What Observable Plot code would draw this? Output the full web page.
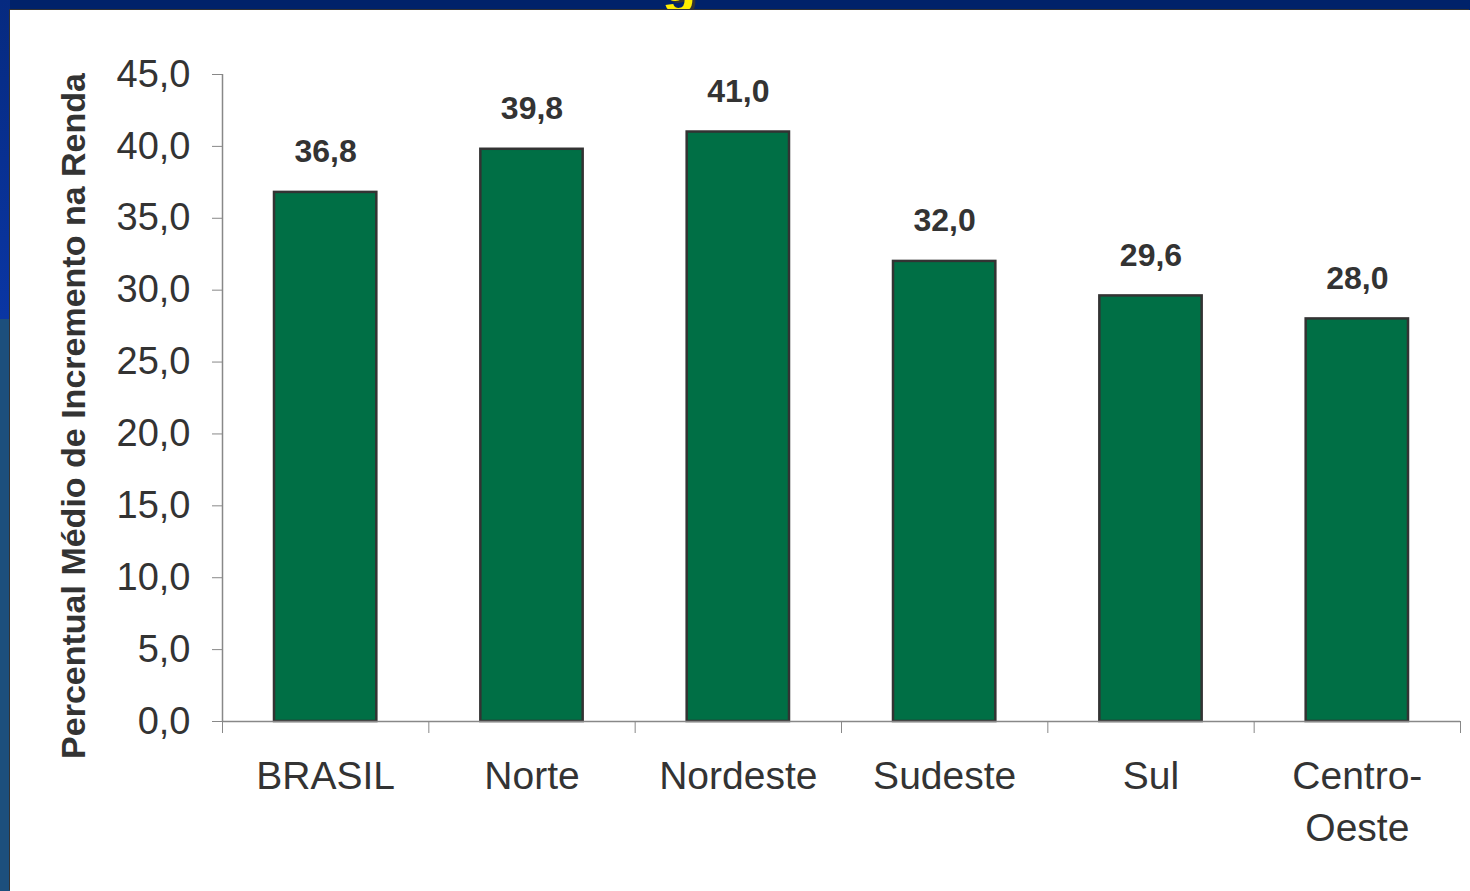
<!DOCTYPE html>
<html>
<head>
<meta charset="utf-8">
<script src="https://cdn.jsdelivr.net/npm/d3@7"></script>
<script src="https://cdn.jsdelivr.net/npm/@observablehq/plot@0.6"></script>
<style>
  html, body { margin: 0; padding: 0; }
  body { width: 1470px; height: 891px; position: relative; overflow: hidden; background: #00226a; font-family: "Liberation Sans", Arial, sans-serif; }
  #leftTop { position: absolute; left: 0; top: 0; width: 10px; height: 319px; background: linear-gradient(#062a80, #0a36a4); }
  #leftBot { position: absolute; left: 0; top: 319px; width: 10px; height: 572px; background: #1c4f7c; }
  #panel { position: absolute; left: 10px; top: 10px; width: 1460px; height: 881px; background: #fff; box-shadow: -1px -1px 0 #333; }
  #titleClip { position: absolute; left: 0; top: 0; width: 1470px; height: 9px; overflow: hidden; }
  #titleClip span { position: absolute; left: 662px; top: -46px; font-size: 56px; font-weight: bold; color: #ffee00; text-shadow: 3px 2px 0 #333; line-height: 1; }
</style>
</head>
<body>
<div id="titleClip"><span>g</span></div>
<div id="leftTop"></div>
<div id="leftBot"></div>
<div id="panel"></div>
<script>
const regions = ["BRASIL", "Norte", "Nordeste", "Sudeste", "Sul", "Centro-\nOeste"];
const values = [36.8, 39.8, 41.0, 32.0, 29.6, 28.0];
const yTicks = [0, 5, 10, 15, 20, 25, 30, 35, 40, 45];
const yLabel = "Percentual Médio de Incremento na Renda";

const data = regions.map((r, i) => ({region: r, value: values[i], i}));
const boundaries = d3.range(regions.length + 1);
const fmt = v => v.toFixed(1).replace(".", ",");

const chart = Plot.plot({
  width: 1460,
  height: 881,
  marginLeft: 212,
  marginRight: 10,
  marginTop: 64,
  marginBottom: 170,
  style: {fontFamily: "'Liberation Sans', Arial, sans-serif", color: "#333", background: "transparent"},
  x: {type: "linear", domain: [0, regions.length], axis: null},
  y: {domain: [0, 45], axis: null},
  marks: [
    Plot.rectY(data, {x1: d => d.i, x2: d => d.i + 1, y: "value", insetLeft: 52, insetRight: 52, fill: "#006f45", stroke: "#333", strokeWidth: 2.5}),
    Plot.ruleY([0], {stroke: "#888", strokeWidth: 1.5}),
    Plot.ruleX([0], {y1: 0, y2: 45, stroke: "#888", strokeWidth: 1.5}),
    Plot.axisY({ticks: yTicks, tickFormat: fmt, tickSize: 10, tickPadding: 22, fontSize: 38, stroke: "#888", fill: "#333", label: null}),
    Plot.axisX({ticks: boundaries, tickFormat: () => "", tickSize: 12, stroke: "#888", label: null}),
    Plot.text(data, {x: d => d.i + 0.5, y: 0, text: "region", lineAnchor: "top", dy: 31, fontSize: 39, lineHeight: 1.33, fill: "#333"}),
    Plot.text(data, {x: d => d.i + 0.5, y: "value", text: d => fmt(d.value), lineAnchor: "bottom", dy: -30, fontSize: 32, fontWeight: "bold", fill: "#333"}),
    Plot.text([yLabel], {frameAnchor: "left", textAnchor: "middle", rotate: -90, dx: -148, dy: 18, fontSize: 34, fontWeight: "bold", fill: "#333"})
  ]
});
chart.style.position = "absolute";
chart.style.left = "10px";
chart.style.top = "10px";
document.body.appendChild(chart);
</script>
</body>
</html>
